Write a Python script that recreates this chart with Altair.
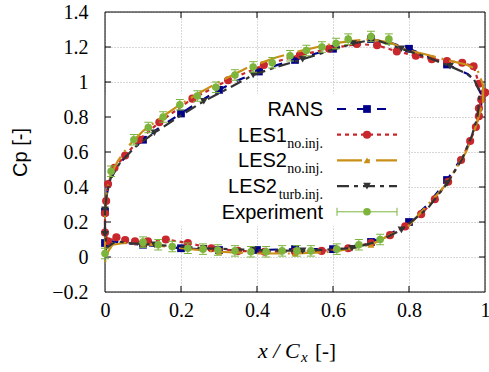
import altair as alt
import pandas as pd

# ---------------- values ----------------
# RANS (marker flag m = 1 where a square is drawn)
rans_x = [0.99, 0.975, 0.955, 0.9, 0.85, 0.8, 0.75, 0.7, 0.65, 0.6, 0.55, 0.5, 0.45, 0.405,
          0.35, 0.3, 0.25, 0.2, 0.15, 0.1, 0.06, 0.03, 0.012, 0.004, 0.0, 0.0, 0.0, 0.02,
          0.05, 0.1, 0.15, 0.2, 0.3, 0.4, 0.5, 0.6, 0.65, 0.7, 0.75, 0.8, 0.85, 0.9, 0.94,
          0.965, 0.98, 0.99, 0.99]
rans_y = [0.93, 1.0, 1.045, 1.10, 1.145, 1.19, 1.225, 1.245, 1.22, 1.19, 1.16, 1.126, 1.095, 1.06,
          1.01, 0.955, 0.89, 0.82, 0.75, 0.67, 0.59, 0.51, 0.43, 0.35, 0.26, 0.15, 0.08, 0.09,
          0.08, 0.07, 0.06, 0.05, 0.04, 0.04, 0.045, 0.045, 0.06, 0.086, 0.13, 0.2, 0.3, 0.44, 0.57,
          0.68, 0.78, 0.87, 0.93]
rans_m = [0, 0, 0, 1, 0, 1, 0, 1, 0, 1, 0, 1, 0, 1,
          0, 1, 0, 1, 0, 1, 0, 0, 0, 0, 1, 0, 1, 0,
          0, 1, 0, 1, 1, 1, 1, 1, 0, 1, 0, 1, 0, 1, 0,
          0, 0, 0, 0]

# LES1 no.inj. (a circle at every point)
les1_x = [1.0, 0.984, 0.97, 0.94, 0.9, 0.86, 0.818, 0.768, 0.716, 0.663, 0.59, 0.513, 0.418,
          0.324, 0.23, 0.143, 0.09, 0.053, 0.025, 0.008, 0.003, 0.0, 0.0, 0.008, 0.03, 0.053,
          0.079, 0.113, 0.16, 0.218, 0.28, 0.35, 0.42, 0.5, 0.57, 0.64, 0.7, 0.75, 0.79, 0.832,
          0.868, 0.903, 0.937, 0.961, 0.976, 0.984, 0.984, 0.99, 1.0]
les1_y = [0.94, 0.99, 1.09, 1.11, 1.12, 1.13, 1.15, 1.175, 1.21, 1.217, 1.19, 1.154, 1.097,
          1.01, 0.905, 0.77, 0.67, 0.58, 0.51, 0.417, 0.32, 0.25, 0.14, 0.09, 0.113, 0.097,
          0.09, 0.09, 0.10, 0.08, 0.05, 0.035, 0.03, 0.03, 0.035, 0.05, 0.08, 0.125, 0.175, 0.245,
          0.33, 0.43, 0.554, 0.663, 0.743, 0.805, 0.85, 0.9, 0.94]

# LES2 no.inj.
les2_x = [0.995, 0.995, 0.987, 0.98, 0.95, 0.9, 0.84, 0.8, 0.75, 0.7, 0.65, 0.6, 0.5, 0.45,
          0.373, 0.3, 0.25, 0.2, 0.15, 0.1, 0.06, 0.034, 0.015, 0.005, 0.0, 0.0, 0.0, 0.008,
          0.02, 0.05, 0.1, 0.2, 0.3, 0.4, 0.5, 0.6, 0.7, 0.8, 0.9, 0.95, 0.975, 0.99, 0.995]
les2_y = [0.88, 0.98, 1.03, 1.07, 1.10, 1.125, 1.16, 1.18, 1.225, 1.245, 1.235, 1.22, 1.17, 1.14,
          1.08, 1.0, 0.94, 0.875, 0.80, 0.72, 0.63, 0.55, 0.47, 0.38, 0.26, 0.1, -0.03, 0.03,
          0.07, 0.08, 0.075, 0.05, 0.03, 0.02, 0.02, 0.03, 0.07, 0.18, 0.42, 0.6, 0.74, 0.85, 0.88]
les2_m = [0, 0, 0, 0, 0, 0, 0, 0, 0, 0, 0, 0, 0, 0,
          0, 0, 0, 0, 0, 0, 0, 0, 0, 0, 0, 0, 0, 0,
          0, 0, 1, 0, 1, 0, 1, 0, 1, 0, 0, 0, 0, 0, 0]

# LES2 turb.inj.
turb_x = [0.985, 0.97, 0.95, 0.908, 0.85, 0.78, 0.72, 0.7, 0.653, 0.6, 0.52, 0.45, 0.39, 0.33,
          0.26, 0.2, 0.13, 0.08, 0.04, 0.015, 0.005, 0.0, 0.0, 0.005, 0.015, 0.03, 0.06, 0.13,
          0.26, 0.39, 0.52, 0.65, 0.72, 0.78, 0.85, 0.9, 0.94, 0.965, 0.98, 0.985, 0.985]
turb_y = [0.95, 1.02, 1.05, 1.09, 1.14, 1.19, 1.235, 1.24, 1.22, 1.185, 1.13, 1.085, 1.04, 0.97,
          0.89, 0.81, 0.71, 0.63, 0.54, 0.45, 0.37, 0.27, 0.13, 0.05, 0.07, 0.09, 0.08, 0.07,
          0.05, 0.04, 0.035, 0.05, 0.09, 0.155, 0.28, 0.42, 0.56, 0.69, 0.8, 0.9, 0.95]
turb_m = [0, 0, 0, 1, 0, 1, 0, 0, 1, 0, 1, 0, 1, 0,
          1, 0, 1, 0, 0, 0, 0, 1, 1, 0, 0, 0, 0, 1,
          1, 1, 1, 1, 0, 1, 0, 1, 0, 0, 0, 0, 0]

# Experiment
exp_x = [0.016, 0.076, 0.114, 0.153, 0.197, 0.243, 0.292, 0.342, 0.39, 0.44, 0.487, 0.53,
         0.571, 0.608, 0.64, 0.70, 0.747,
         0.0, 0.1, 0.14, 0.177, 0.218, 0.258, 0.297, 0.342, 0.384, 0.424, 0.466, 0.505,
         0.542, 0.61, 0.668, 0.724]
exp_y = [0.49, 0.67, 0.74, 0.80, 0.87, 0.92, 0.97, 1.04, 1.086, 1.11, 1.15, 1.18,
         1.20, 1.22, 1.245, 1.26, 1.245,
         0.02, 0.085, 0.07, 0.06, 0.05, 0.045, 0.04, 0.035, 0.03, 0.03, 0.035, 0.035,
         0.035, 0.045, 0.07, 0.10]
exp_err = 0.03

x_tick_vals = [0, 0.2, 0.4, 0.6, 0.8, 1]
y_tick_vals = [-0.2, 0, 0.2, 0.4, 0.6, 0.8, 1, 1.2, 1.4]
x_inner = [0.2, 0.4, 0.6, 0.8]
y_inner = [0, 0.2, 0.4, 0.6, 0.8, 1, 1.2]

# ---------------- chart ----------------
W, H = 380, 280
SERIF = "Liberation Serif"
SANS = "Liberation Sans"

C_RANS = "#00008b"
C_LES1 = "#c8282d"
C_LES2 = "#c98f17"
C_TURB = "#333333"
C_EXP = "#7db43c"

D_RANS = [9, 11]
D_LES1 = [4, 4]
D_LES2 = [25, 6, 2, 6]
D_TURB = [12, 5, 4, 5]

xs = alt.Scale(domain=[0, 1], nice=False, zero=False)
ys = alt.Scale(domain=[-0.2, 1.4], nice=False, zero=False)

x_axis = alt.Axis(values=x_tick_vals, format="~g", labelFont=SERIF, labelFontSize=20,
                  labelColor="black", labelPadding=8, labelFlush=False, ticks=False,
                  domain=False, grid=True, gridDash=[1, 2], gridColor="#b0b0b0", title=None)
y_axis = alt.Axis(values=y_tick_vals, format=".1~f", labelFont=SERIF, labelFontSize=20,
                  labelColor="black", labelPadding=17, labelFlush=False, ticks=False,
                  domain=False, grid=True, gridDash=[1, 2], gridColor="#b0b0b0",
                  title="Cp [-]", titleFont=SANS, titleFontSize=20, titleFontWeight="normal",
                  titleColor="black", titleX=-85, titleY=140, titleAngle=270,
                  titleAlign="center", titleBaseline="middle")


def X(f):
    return alt.X(f, type="quantitative", scale=xs, axis=x_axis)


def Y(f):
    return alt.Y(f, type="quantitative", scale=ys, axis=y_axis)


def sdf(x, y, m):
    return pd.DataFrame({"x": x, "y": y, "m": m, "i": list(range(len(x)))})


one = pd.DataFrame({"a": [0]})
layers = []

# white area hiding the grid behind the key
layers.append(alt.Chart(one).mark_rect(color="white").encode(
    x=alt.value(0), x2=alt.value(303), y=alt.value(82), y2=alt.value(214)))

# frame
layers.append(alt.Chart(one).mark_rect(fillOpacity=0, stroke="black", strokeWidth=1).encode(
    x=alt.value(0), x2=alt.value(W), y=alt.value(0), y2=alt.value(H)))

# inward ticks on all four sides
xt = pd.DataFrame({"x": x_inner})
yt = pd.DataFrame({"y": y_inner})
layers.append(alt.Chart(xt).mark_rule(color="black", strokeWidth=1).encode(
    x=X("x"), y=alt.value(H), y2=alt.value(H - 6)))
layers.append(alt.Chart(xt).mark_rule(color="black", strokeWidth=1).encode(
    x=X("x"), y=alt.value(0), y2=alt.value(6)))
layers.append(alt.Chart(yt).mark_rule(color="black", strokeWidth=1).encode(
    y=Y("y"), x=alt.value(0), x2=alt.value(6)))
layers.append(alt.Chart(yt).mark_rule(color="black", strokeWidth=1).encode(
    y=Y("y"), x=alt.value(W), x2=alt.value(W - 6)))

series = [
    (sdf(rans_x, rans_y, rans_m), C_RANS, D_RANS, "square", 60),
    (sdf(les1_x, les1_y, [1] * len(les1_x)), C_LES1, D_LES1, "circle", 66),
    (sdf(les2_x, les2_y, les2_m), C_LES2, D_LES2, "triangle-up", 45),
    (sdf(turb_x, turb_y, turb_m), C_TURB, D_TURB, "triangle-down", 58),
]
for df, col, dash, shape, size in series:
    layers.append(alt.Chart(df).mark_line(color=col, strokeWidth=2.2, strokeDash=dash,
                                          strokeCap="butt").encode(
        x=X("x"), y=Y("y"), order=alt.Order("i:Q")))
    layers.append(alt.Chart(df).transform_filter("datum.m == 1").mark_point(
        filled=True, shape=shape, size=size, color=col, opacity=1, strokeWidth=0).encode(
        x=X("x"), y=Y("y")))

edf = pd.DataFrame({"x": exp_x, "y": exp_y})
edf["lo"] = edf["y"] - exp_err
edf["hi"] = edf["y"] + exp_err
layers.append(alt.Chart(edf).mark_rule(color=C_EXP, strokeWidth=1).encode(
    x=X("x"), y=Y("lo"), y2="hi"))
for f in ["lo", "hi"]:
    layers.append(alt.Chart(edf).mark_tick(color=C_EXP, orient="horizontal", size=8,
                                           thickness=1, opacity=1).encode(
        x=X("x"), y=Y(f)))
layers.append(alt.Chart(edf).mark_point(filled=True, shape="circle", size=58, color=C_EXP,
                                        opacity=1, strokeWidth=0).encode(x=X("x"), y=Y("y")))

# ---------------- key ----------------
key_rows = [
    ("RANS", "", 218, C_RANS, D_RANS, "square", 60),
    ("LES1", "no.inj.", 182, C_LES1, D_LES1, "circle", 66),
    ("LES2", "no.inj.", 182, C_LES2, D_LES2, "triangle-up", 45),
    ("LES2", "turb.inj.", 172, C_TURB, D_TURB, "triangle-down", 58),
    ("Experiment", "", 218, C_EXP, None, "circle", 58),
]
for k, (name, sub, tx, col, dash, shape, size) in enumerate(key_rows):
    ly = 97 + 25.7 * k
    layers.append(alt.Chart(one).mark_text(font=SANS, fontSize=20, align="right",
                                           baseline="alphabetic", color="black").encode(
        x=alt.value(tx), y=alt.value(ly + 7), text=alt.value(name)))
    if sub:
        layers.append(alt.Chart(one).mark_text(font=SERIF, fontSize=14, align="right",
                                               baseline="alphabetic", color="black").encode(
            x=alt.value(218), y=alt.value(ly + 13), text=alt.value(sub)))
    if dash is not None:
        layers.append(alt.Chart(one).mark_rule(color=col, strokeWidth=2.2, strokeDash=dash,
                                               strokeCap="butt").encode(
            x=alt.value(232), x2=alt.value(292), y=alt.value(ly)))
    else:
        layers.append(alt.Chart(one).mark_rule(color=col, strokeWidth=1).encode(
            x=alt.value(232), x2=alt.value(292), y=alt.value(ly)))
        for cx in [232, 292]:
            layers.append(alt.Chart(one).mark_rule(color=col, strokeWidth=1).encode(
                x=alt.value(cx), y=alt.value(ly - 4), y2=alt.value(ly + 4)))
    layers.append(alt.Chart(one).mark_point(filled=True, shape=shape, size=size, color=col,
                                            opacity=1, strokeWidth=0).encode(
        x=alt.value(262), y=alt.value(ly)))

# ---------------- x title ----------------
layers.append(alt.Chart(one).mark_text(font=SERIF, fontStyle="italic", fontSize=22,
                                       align="left", baseline="alphabetic", color="black").encode(
    x=alt.value(153), y=alt.value(346), text=alt.value("x / C")))
layers.append(alt.Chart(one).mark_text(font=SERIF, fontStyle="italic", fontSize=15,
                                       align="left", baseline="alphabetic", color="black").encode(
    x=alt.value(196), y=alt.value(350), text=alt.value("x")))
layers.append(alt.Chart(one).mark_text(font=SERIF, fontSize=21,
                                       align="left", baseline="alphabetic", color="black").encode(
    x=alt.value(210), y=alt.value(346), text=alt.value("[-]")))

chart = alt.layer(*layers).properties(
    width=W, height=H,
    padding={"left": 105, "top": 12, "right": 4, "bottom": 80},
    autosize=alt.AutoSizeParams(type="none"),
).configure_view(stroke=None)

chart.save("out.html", embed_options={"renderer": "svg", "actions": False})
